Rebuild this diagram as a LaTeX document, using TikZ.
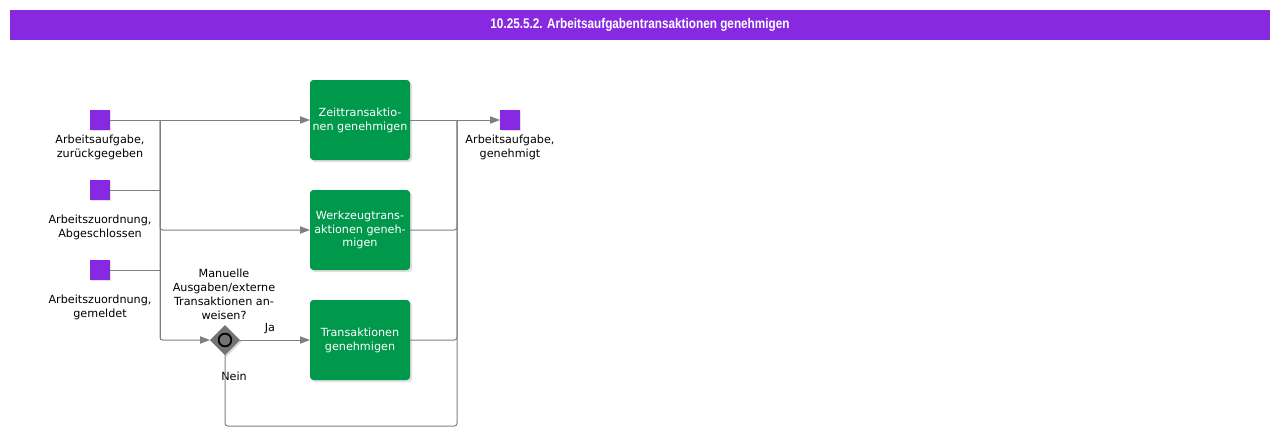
\documentclass[tikz,border=0pt]{standalone}
\usepackage{fontspec}
\setmainfont{DejaVu Sans}
\newfontfamily\titlefont[FakeStretch=0.84,UprightFont=* Bold]{Liberation Sans}
\usetikzlibrary{arrows.meta,shapes.geometric,shadows}
\definecolor{evpurple}{HTML}{8629E0}
\definecolor{taskgreen}{HTML}{00994C}
\definecolor{linegray}{HTML}{7F7F7F}
\begin{document}
\begin{tikzpicture}[x=0.75pt,y=-0.75pt,
  every node/.style={inner sep=0pt,outer sep=0pt},
  lbl/.style={font=\fontsize{8.4}{10.4}\selectfont,align=center,text=black},
  event/.style={draw=none,fill=evpurple,minimum width=15pt,minimum height=15pt,
    drop shadow={shadow xshift=1pt,shadow yshift=-1pt,opacity=0.25}},
  task/.style={fill=taskgreen,rounded corners=2.5pt,minimum width=75pt,minimum height=60pt,
    text=white,align=center,font=\fontsize{8.4}{10.4}\selectfont,
    drop shadow={shadow xshift=1.5pt,shadow yshift=-1.5pt,opacity=0.25}},
  gate/.style={diamond,fill=gray!90!black,minimum width=22.5pt,minimum height=22.5pt,
    drop shadow={shadow xshift=1.2pt,shadow yshift=-1.2pt,opacity=0.3}},
  conn/.style={draw=linegray,line width=0.75pt,rounded corners=2pt},
  arr/.style={conn,-{Triangle[length=7.5pt,width=5.5pt]}}
]
\useasboundingbox (0,0) rectangle (1280,436);
\fill[evpurple] (10,10) rectangle (1270,40);
\node[text=white,font=\titlefont\fontsize{10.5}{12}\selectfont] (title) at (640,25) {10.25.5.2. Arbeitsaufgabentransaktionen genehmigen};

\node[event] (e1) at (100,120) {};
\node[event] (e2) at (100,190) {};
\node[event] (e3) at (100,270) {};
\node[event] (e4) at (510,120) {};
\node[lbl] (l1) at (100,147) {Arbeitsaufgabe,\\zurückgegeben};
\node[lbl] (l2) at (100,227) {Arbeitszuordnung,\\Abgeschlossen};
\node[lbl] (l3) at (100,307) {Arbeitszuordnung,\\gemeldet};
\node[lbl] (l4) at (510,147) {Arbeitsaufgabe,\\genehmigt};

\node[task] (t1) at (360,120) {Zeittransaktio-\\nen genehmigen};
\node[task] (t2) at (360,230) {Werkzeugtrans-\\aktionen geneh-\\migen};
\node[task] (t3) at (360,340) {Transaktionen\\genehmigen};

\node[gate] (g) at (225,340) {};
\node[circle,draw=black,line width=1.3pt,minimum size=9.5pt] (gc) at (g) {};
\node[lbl] (gl) at (224,294.5) {Manuelle\\Ausgaben/externe\\Transaktionen an-\\weisen?};
\node[lbl] (ja) at (270,329) {Ja};
\node[lbl] (nein) at (234,376) {Nein};

\coordinate (m1) at (160,120);
\coordinate (m2) at (160,190);
\coordinate (m3) at (160,270);
\coordinate (j) at (457,120);

\draw[arr] (e1) -- (t1);
\draw[conn] (m1) -- (160,340);
\draw[conn] (e2.east) -- (m2);
\draw[conn] (e3.east) -- (m3);
\draw[arr] (m1) |- (t2);
\draw[arr] (m1) |- (g.west);
\draw[arr] (g.east) -- (t3);
\draw[conn] (t1.east) -- (j);
\draw[conn] (t2.east) -| (j);
\draw[conn] (t3.east) -| (j);
\draw[conn] (g.south) |- (457,426) -- (j);
\draw[arr] (j) -- (e4);
\end{tikzpicture}
\end{document}
